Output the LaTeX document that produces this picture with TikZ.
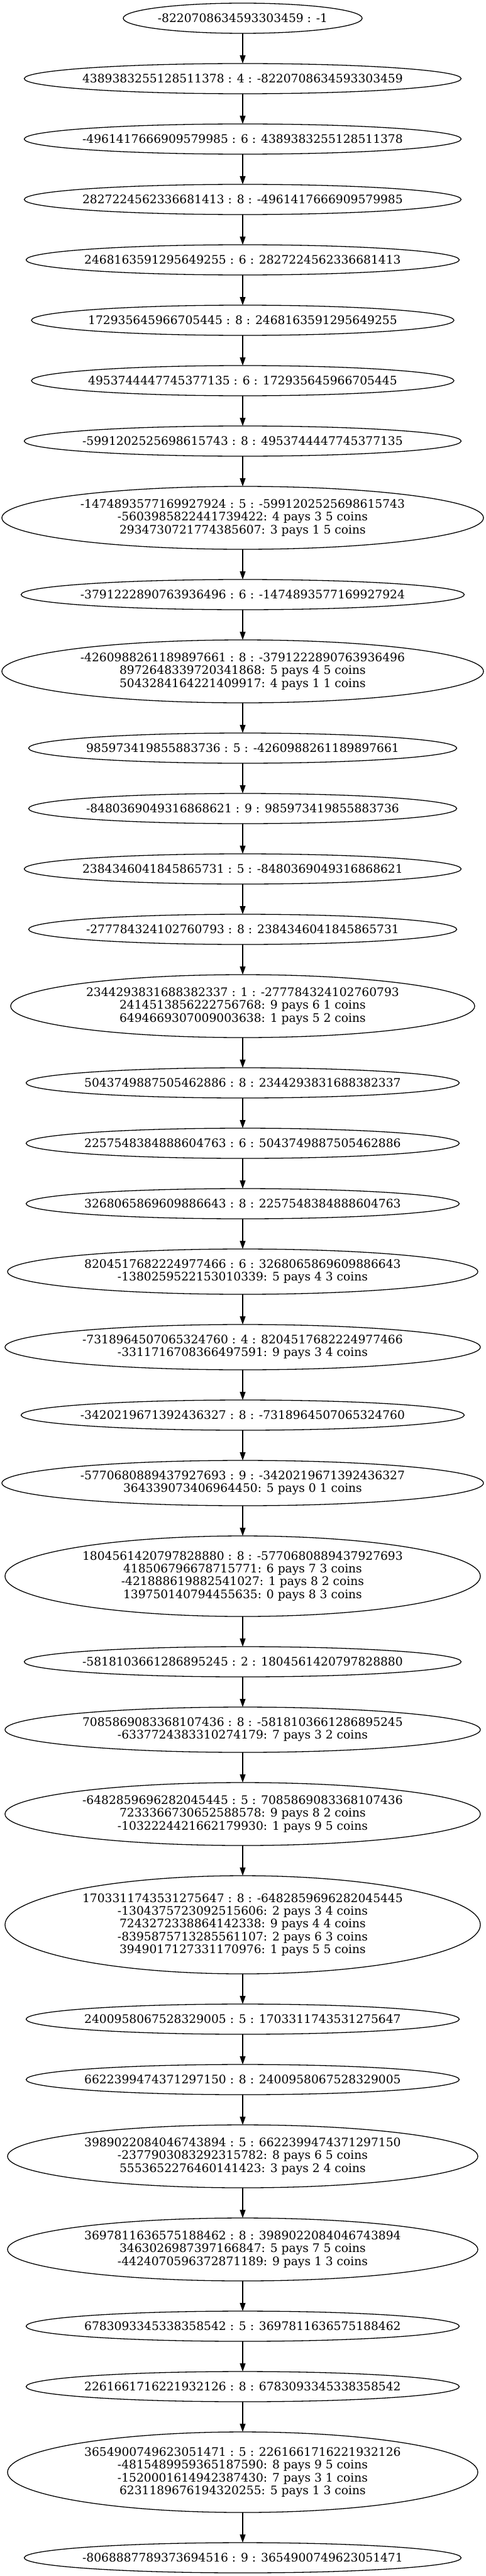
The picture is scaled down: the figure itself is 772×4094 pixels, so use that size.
\documentclass[tikz,border=0pt]{standalone}
\usepackage{fontspec}
\setmainfont{DejaVu Serif}
\usetikzlibrary{positioning, shapes.geometric, arrows.meta}

\begin{document}
\begin{tikzpicture}[>={Triangle[length=13pt,width=9pt]}, line width=1.3pt, node distance=48pt,
  blk/.style={ellipse, draw, outer sep=0pt, inner xsep=-40pt, inner ysep=0pt, align=center,
    minimum height=48pt, font=\fontsize{18.67pt}{20.2pt}\selectfont},
  l2/.style={minimum height=72pt}, l3/.style={minimum height=100pt},
  l4/.style={minimum height=128pt}, l5/.style={minimum height=156pt}]
\useasboundingbox (-386pt,29pt) rectangle (386pt,-4065pt);
\node[blk, minimum width=380pt] (b1) at (0,0) {-8220708634593303459 : -1};
\node[blk, minimum width=695pt, below=of b1] (b2) {4389383255128511378 : 4 : -8220708634593303459};
\node[blk, minimum width=695pt, below=of b2] (b3) {-4961417666909579985 : 6 : 4389383255128511378};
\node[blk, minimum width=695pt, below=of b3] (b4) {2827224562336681413 : 8 : -4961417666909579985};
\node[blk, minimum width=689pt, below=of b4] (b5) {2468163591295649255 : 6 : 2827224562336681413};
\node[blk, minimum width=672pt, below=of b5] (b6) {172935645966705445 : 8 : 2468163591295649255};
\node[blk, minimum width=672pt, below=of b6] (b7) {4953744447745377135 : 6 : 172935645966705445};
\node[blk, minimum width=695pt, below=of b7] (b8) {-5991202525698615743 : 8 : 4953744447745377135};
\node[blk, l3, minimum width=766pt, below=of b8] (b9) {-1474893577169927924 : 5 : -5991202525698615743\\-5603985822441739422: 4 pays 3 5 coins\\2934730721774385607: 3 pays 1 5 coins};
\node[blk, minimum width=705pt, below=of b9] (b10) {-3791222890763936496 : 6 : -1474893577169927924};
\node[blk, l3, minimum width=766pt, below=of b10] (b11) {-4260988261189897661 : 8 : -3791222890763936496\\8972648339720341868: 5 pays 4 5 coins\\5043284164221409917: 4 pays 1 1 coins};
\node[blk, minimum width=681pt, below=of b11] (b12) {985973419855883736 : 5 : -4260988261189897661};
\node[blk, minimum width=681pt, below=of b12] (b13) {-8480369049316868621 : 9 : 985973419855883736};
\node[blk, minimum width=695pt, below=of b13] (b14) {2384346041845865731 : 5 : -8480369049316868621};
\node[blk, minimum width=681pt, below=of b14] (b15) {-277784324102760793 : 8 : 2384346041845865731};
\node[blk, l3, minimum width=738pt, below=of b15] (b16) {2344293831688382337 : 1 : -277784324102760793\\2414513856222756768: 9 pays 6 1 coins\\6494669307009003638: 1 pays 5 2 coins};
\node[blk, minimum width=689pt, below=of b16] (b17) {5043749887505462886 : 8 : 2344293831688382337};
\node[blk, minimum width=689pt, below=of b17] (b18) {2257548384888604763 : 6 : 5043749887505462886};
\node[blk, minimum width=689pt, below=of b18] (b19) {3268065869609886643 : 8 : 2257548384888604763};
\node[blk, l2, minimum width=748pt, below=of b19] (b20) {8204517682224977466 : 6 : 3268065869609886643\\-1380259522153010339: 5 pays 4 3 coins};
\node[blk, l2, minimum width=756pt, below=of b20] (b21) {-7318964507065324760 : 4 : 8204517682224977466\\-3311716708366497591: 9 pays 3 4 coins};
\node[blk, minimum width=705pt, below=of b21] (b22) {-3420219671392436327 : 8 : -7318964507065324760};
\node[blk, l2, minimum width=766pt, below=of b22] (b23) {-5770680889437927693 : 9 : -3420219671392436327\\364339073406964450: 5 pays 0 1 coins};
\node[blk, l4, minimum width=756pt, below=of b23] (b24) {1804561420797828880 : 8 : -5770680889437927693\\418506796678715771: 6 pays 7 3 coins\\-421888619882541027: 1 pays 8 2 coins\\139750140794455635: 0 pays 8 3 coins};
\node[blk, minimum width=695pt, below=of b24] (b25) {-5818103661286895245 : 2 : 1804561420797828880};
\node[blk, l2, minimum width=756pt, below=of b25] (b26) {7085869083368107436 : 8 : -5818103661286895245\\-6337724383310274179: 7 pays 3 2 coins};
\node[blk, l3, minimum width=756pt, below=of b26] (b27) {-6482859696282045445 : 5 : 7085869083368107436\\7233366730652588578: 9 pays 8 2 coins\\-1032224421662179930: 1 pays 9 5 coins};
\node[blk, l5, minimum width=756pt, below=of b27] (b28) {1703311743531275647 : 8 : -6482859696282045445\\-1304375723092515606: 2 pays 3 4 coins\\7243272338864142338: 9 pays 4 4 coins\\-8395875713285561107: 2 pays 6 3 coins\\3949017127331170976: 1 pays 5 5 coins};
\node[blk, minimum width=689pt, below=of b28] (b29) {2400958067528329005 : 5 : 1703311743531275647};
\node[blk, minimum width=689pt, below=of b29] (b30) {6622399474371297150 : 8 : 2400958067528329005};
\node[blk, l3, minimum width=748pt, below=of b30] (b31) {3989022084046743894 : 5 : 6622399474371297150\\-2377903083292315782: 8 pays 6 5 coins\\5553652276460141423: 3 pays 2 4 coins};
\node[blk, l3, minimum width=748pt, below=of b31] (b32) {3697811636575188462 : 8 : 3989022084046743894\\3463026987397166847: 5 pays 7 5 coins\\-4424070596372871189: 9 pays 1 3 coins};
\node[blk, minimum width=689pt, below=of b32] (b33) {6783093345338358542 : 5 : 3697811636575188462};
\node[blk, minimum width=689pt, below=of b33] (b34) {2261661716221932126 : 8 : 6783093345338358542};
\node[blk, l4, minimum width=748pt, below=of b34] (b35) {3654900749623051471 : 5 : 2261661716221932126\\-4815489959365187590: 8 pays 9 5 coins\\-1520001614942387430: 7 pays 3 1 coins\\6231189676194320255: 5 pays 1 3 coins};
\node[blk, minimum width=695pt, below=of b35] (b36) {-8068887789373694516 : 9 : 3654900749623051471};
\foreach \i [evaluate=\i as \j using int(\i+1)] in {1,...,35}
  \draw[->] (b\i) -- (b\j);
\end{tikzpicture}
\end{document}
